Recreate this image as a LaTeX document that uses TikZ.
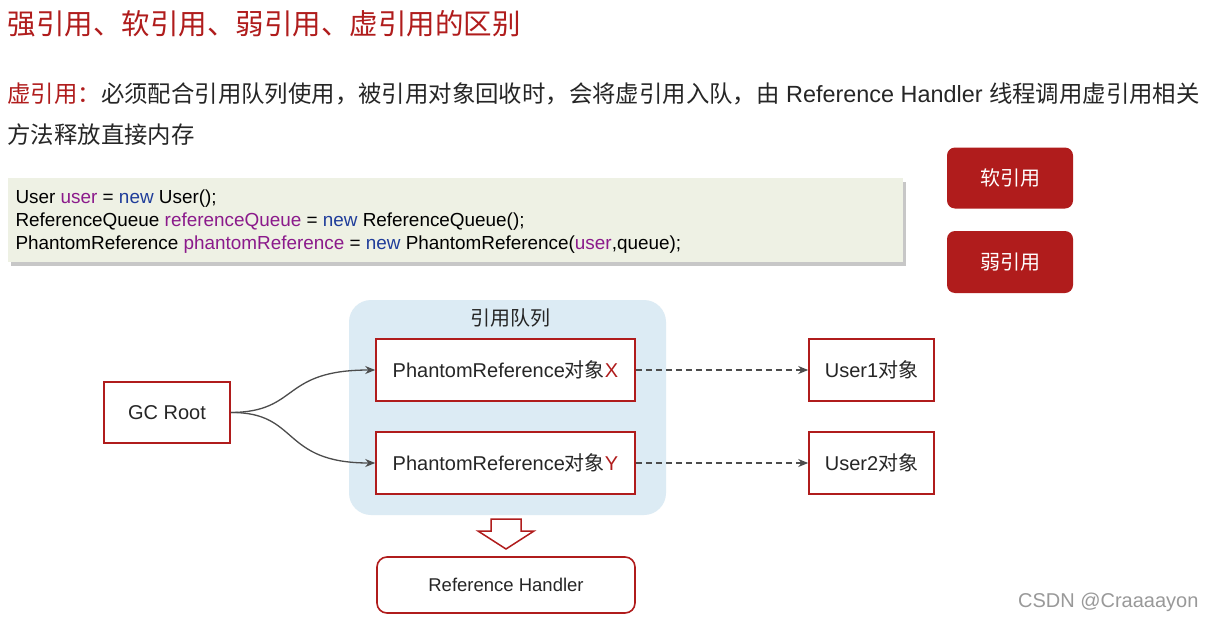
\documentclass[tikz,border=0pt]{standalone}
\usepackage{fontspec}
\setmainfont{Liberation Sans}
\newfontfamily\cjk{Noto Sans CJK SC}
\usetikzlibrary{arrows.meta}
\definecolor{dr}{HTML}{B01C1C}
\definecolor{codebg}{HTML}{EEF1E4}
\definecolor{qbg}{HTML}{DCEBF4}
\definecolor{kw}{HTML}{1F3D9A}
\definecolor{vr}{HTML}{8B1A8B}
\newcommand{\zh}[1]{{\cjk #1}}
\tikzset{
 box/.style={draw=dr,line width=1.6pt,fill=white,font=\fontsize{20}{24}\selectfont,text=black!85},
 redbtn/.style={fill=dr,rounded corners=8pt,text=white,font=\cjk\fontsize{20}{24}\selectfont},
 conn/.style={draw=black!70,line width=1.3pt,-{Stealth[length=10pt,width=8pt]}},
 dconn/.style={conn,dashed,dash pattern=on 6pt off 4pt}
}
\begin{document}
\begin{tikzpicture}[x=1pt,y=-1pt]
\useasboundingbox (0,0) rectangle (1206,621);
\fill[white] (0,0) rectangle (1206,621);
\node[anchor=west,text=dr,font=\cjk\fontsize{28.5}{32}\selectfont] (title) at (4,24) {强引用、软引用、弱引用、虚引用的区别};
\node[anchor=west,font=\fontsize{23.4}{28}\selectfont,text=black!85] (l1) at (4,94) {\zh{\textcolor{dr}{虚引用：}必须配合引用队列使用，被引用对象回收时，会将虚引用入队，由} Reference Handler \zh{线程调用虚引用相关}};
\node[anchor=west,font=\cjk\fontsize{23.4}{28}\selectfont,text=black!85] (l2) at (4,135) {方法释放直接内存};
% code box
\fill[black!22] (11,182) rectangle (906,266);
\fill[codebg] (8,178) rectangle (903,262);
\node[anchor=north west,align=left,font=\fontsize{18.9}{23}\selectfont,text=black] (code) at (12,186) {User \textcolor{vr}{user} = \textcolor{kw}{new} User();\\
ReferenceQueue \textcolor{vr}{referenceQueue} = \textcolor{kw}{new} ReferenceQueue();\\
PhantomReference \textcolor{vr}{phantomReference} = \textcolor{kw}{new} PhantomReference(\textcolor{vr}{user},queue);};
\node[redbtn,minimum width=126pt,minimum height=61pt] (soft) at (1010,178) {软引用};
\node[redbtn,minimum width=126pt,minimum height=62pt] (weak) at (1010,262) {弱引用};
% queue
\fill[qbg,rounded corners=22pt] (349,300) rectangle (666,515);
\node[font=\cjk\fontsize{20}{24}\selectfont,text=black!85] (ql) at (510,318) {引用队列};
\node[box,minimum width=259pt,minimum height=62pt] (px) at (505.5,370) {PhantomReference\zh{对象}\textcolor{dr}{X}};
\node[box,minimum width=259pt,minimum height=62pt] (py) at (505.5,463) {PhantomReference\zh{对象}\textcolor{dr}{Y}};
\node[box,minimum width=126pt,minimum height=61pt] (gc) at (167,412.5) {GC Root};
\node[box,minimum width=125pt,minimum height=62pt] (u1) at (871.5,370) {User1\zh{对象}};
\node[box,minimum width=125pt,minimum height=62pt] (u2) at (871.5,463) {User2\zh{对象}};
\node[box,rounded corners=10pt,minimum width=258pt,minimum height=56pt,font=\fontsize{18.5}{22}\selectfont] (rh) at (506,585) {Reference Handler};
\draw[conn] (gc.east) .. controls (300,412) and (280,370) .. (px.west);
\draw[conn] (gc.east) .. controls (300,412) and (280,463) .. (py.west);
\draw[dconn] (px.east) -- (u1.west);
\draw[dconn] (py.east) -- (u2.west);
% hollow arrow
\coordinate (ha) at (506,549);
\draw[dr,line width=1.5pt,fill=white] (491,519) -- (521,519) -- (521,531) -- (534,531) -- (ha) -- (478,531) -- (491,531) -- cycle;
\node[anchor=east,text=black!40,font=\fontsize{20}{24}\selectfont] (wm) at (1202,602) {CSDN @Craaaayon};
\end{tikzpicture}
\end{document}
